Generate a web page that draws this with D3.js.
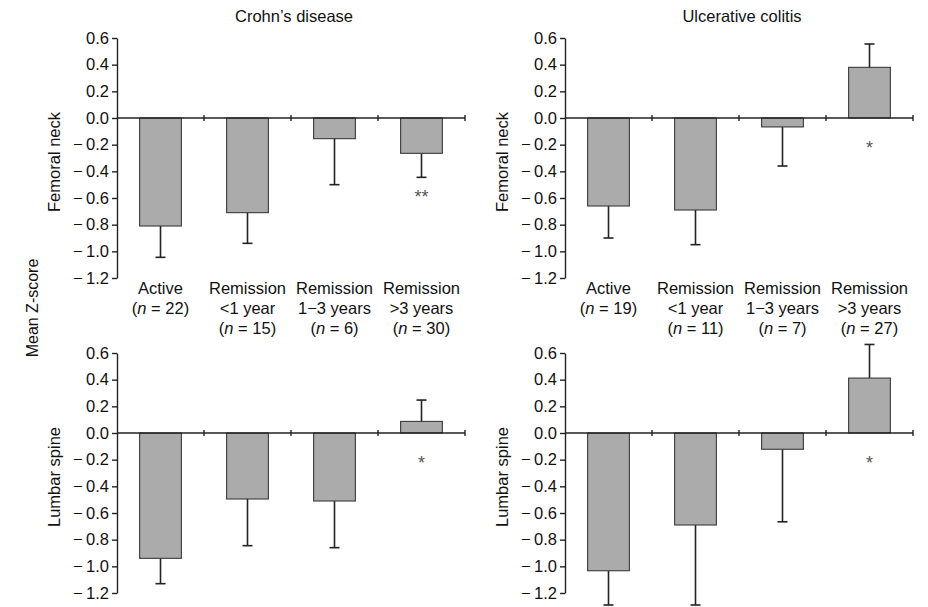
<!DOCTYPE html>
<html>
<head>
<meta charset="utf-8">
<script src="https://cdn.jsdelivr.net/npm/d3@7"></script>
<style>
  body { margin: 0; background: #fff; }
  text { font-family: "Liberation Sans", Arial, sans-serif; fill: #111; }
</style>
</head>
<body>
<div id="chart"></div>
<script>
// categories and group sizes
var categories = ["Active", "Remission <1 year", "Remission 1\u22123 years", "Remission >3 years"];
var catLines = [["Active"], ["Remission", "<1 year"], ["Remission", "1\u22123 years"], ["Remission", ">3 years"]];
var cdN = [22, 15, 6, 30];
var ucN = [19, 11, 7, 27];

// mean Z-score and error (one side, away from zero)
var cdFemoralMean = [-0.81, -0.71, -0.155, -0.265];
var cdFemoralErr = [0.235, 0.23, 0.345, 0.18];
var ucFemoralMean = [-0.66, -0.69, -0.067, 0.38];
var ucFemoralErr = [0.24, 0.26, 0.293, 0.175];
var cdLumbarMean = [-0.94, -0.495, -0.51, 0.087];
var cdLumbarErr = [0.19, 0.35, 0.35, 0.16];
var ucLumbarMean = [-1.033, -0.69, -0.122, 0.412];
var ucLumbarErr = [0.257, 0.60, 0.544, 0.252];

var cdFemoralSig = ["", "", "", "**"];
var ucFemoralSig = ["", "", "", "*"];
var cdLumbarSig = ["", "", "", "*"];
var ucLumbarSig = ["", "", "", "*"];

var yTicks = [0.6, 0.4, 0.2, 0.0, -0.2, -0.4, -0.6, -0.8, -1.0, -1.2];

var svg = d3.select("#chart")
    .append("svg")
    .attr("width", 928)
    .attr("height", 607);

var panels = [
    { x0: 117, top: 38, mean: cdFemoralMean, err: cdFemoralErr, sig: cdFemoralSig, n: cdN, ylab: "Femoral neck", title: "Crohn\u2019s disease" },
    { x0: 565, top: 38, mean: ucFemoralMean, err: ucFemoralErr, sig: ucFemoralSig, n: ucN, ylab: "Femoral neck", title: "Ulcerative colitis" },
    { x0: 117, top: 353, mean: cdLumbarMean, err: cdLumbarErr, sig: cdLumbarSig, n: null, ylab: "Lumbar spine" },
    { x0: 565, top: 353, mean: ucLumbarMean, err: ucLumbarErr, sig: ucLumbarSig, n: null, ylab: "Lumbar spine" }
];

var panelW = 348, panelH = 240;

// tick labels with a wide minus like the original
function fmt(d) {
    var s = d3.format(".1f")(Math.abs(d));
    return d < 0 ? "\u2212\u2009" + s : s;
}

panels.forEach(function (p) {
    var g = svg.append("g").attr("transform", "translate(" + p.x0 + "," + p.top + ")");

    var x = d3.scaleBand()
        .domain(categories)
        .range([0, panelW])
        .paddingInner(0.52)
        .paddingOuter(0.26);

    var y = d3.scaleLinear()
        .domain([0.6, -1.2])
        .range([0, panelH]);

    var data = categories.map(function (c, i) {
        return { cat: c, mean: p.mean[i], err: p.err[i], sig: p.sig[i], lines: catLines[i], n: p.n ? p.n[i] : null };
    });

    // y axis
    var yAxis = g.append("g")
        .call(d3.axisLeft(y).tickValues(yTicks).tickSize(5).tickSizeOuter(0).tickPadding(3)
            .tickFormat(fmt));
    yAxis.select(".domain").attr("stroke", "#222").attr("stroke-width", 1.4);
    yAxis.selectAll(".tick line").attr("stroke", "#222").attr("stroke-width", 1.4);
    yAxis.selectAll(".tick text")
        .style("font-size", "16.5px")
        .style("font-family", "'Liberation Sans', Arial, sans-serif")
        .attr("fill", "#111");

    // error bars
    var eb = g.append("g").selectAll("g.err")
        .data(data)
        .enter()
        .append("g")
        .attr("class", "err");
    eb.append("line")
        .attr("x1", function (d) { return x(d.cat) + x.bandwidth() / 2; })
        .attr("x2", function (d) { return x(d.cat) + x.bandwidth() / 2; })
        .attr("y1", function (d) { return y(d.mean); })
        .attr("y2", function (d) { return y(d.mean + (d.mean < 0 ? -d.err : d.err)); })
        .attr("stroke", "#222")
        .attr("stroke-width", 1.6);
    eb.append("line")
        .attr("x1", function (d) { return x(d.cat) + x.bandwidth() / 2 - 5; })
        .attr("x2", function (d) { return x(d.cat) + x.bandwidth() / 2 + 5; })
        .attr("y1", function (d) { return y(d.mean + (d.mean < 0 ? -d.err : d.err)); })
        .attr("y2", function (d) { return y(d.mean + (d.mean < 0 ? -d.err : d.err)); })
        .attr("stroke", "#222")
        .attr("stroke-width", 1.6);

    // bars
    g.append("g").selectAll("rect")
        .data(data)
        .enter()
        .append("rect")
        .attr("x", function (d) { return x(d.cat); })
        .attr("width", x.bandwidth())
        .attr("y", function (d) { return y(Math.max(0, d.mean)); })
        .attr("height", function (d) { return Math.abs(y(d.mean) - y(0)); })
        .attr("fill", "#ababab")
        .attr("stroke", "#3a3a3a")
        .attr("stroke-width", 1.1);

    // x axis line at zero with boundary ticks
    g.append("line")
        .attr("x1", 0).attr("x2", panelW)
        .attr("y1", y(0)).attr("y2", y(0))
        .attr("stroke", "#222")
        .attr("stroke-width", 1.4);
    g.append("g").selectAll("line.xt")
        .data(data)
        .enter()
        .append("line")
        .attr("class", "xt")
        .attr("x1", function (d) { return x(d.cat) + x.bandwidth() / 2 + x.step() / 2; })
        .attr("x2", function (d) { return x(d.cat) + x.bandwidth() / 2 + x.step() / 2; })
        .attr("y1", y(0) - 3)
        .attr("y2", y(0) + 3)
        .attr("stroke", "#222")
        .attr("stroke-width", 1.4);

    // significance markers
    g.append("g").selectAll("text.sig")
        .data(data.filter(function (d) { return d.sig; }))
        .enter()
        .append("text")
        .attr("class", "sig")
        .attr("x", function (d) { return x(d.cat) + x.bandwidth() / 2; })
        .attr("y", function (d) { return d.mean < 0 ? y(d.mean - d.err) + 26 : y(0) + 36; })
        .attr("text-anchor", "middle")
        .style("font-size", "18px")
        .style("fill", "#555")
        .text(function (d) { return d.sig; });

    // panel y label
    g.append("text")
        .attr("transform", "translate(" + (-57) + "," + (panelH / 2 + 4) + ") rotate(-90)")
        .attr("text-anchor", "middle")
        .style("font-size", "16.5px")
        .text(p.ylab);

    if (p.title) {
        g.append("text")
            .attr("x", panelW / 2 + 3)
            .attr("y", -16)
            .attr("text-anchor", "middle")
            .style("font-size", "16.5px")
            .text(p.title);
    }

    // category labels with n
    if (p.n) {
        var lab = g.append("g").selectAll("text.cat")
            .data(data)
            .enter()
            .append("text")
            .attr("class", "cat")
            .attr("text-anchor", "middle")
            .style("font-size", "16.5px");
        lab.each(function (d) {
            var t = d3.select(this);
            var cx = x(d.cat) + x.bandwidth() / 2;
            d.lines.forEach(function (l, k) {
                t.append("tspan").attr("x", cx).attr("y", panelH + 16 + k * 20).text(l);
            });
            var k = d.lines.length;
            var ts = t.append("tspan").attr("x", cx).attr("y", panelH + 16 + k * 20);
            ts.append("tspan").text("(");
            ts.append("tspan").style("font-style", "italic").text("n");
            t.append("tspan").text(" = " + d.n + ")");
        });
    }
});

// shared y label
svg.append("text")
    .attr("transform", "translate(38,308) rotate(-90)")
    .attr("text-anchor", "middle")
    .style("font-size", "16px")
    .text("Mean Z-score");
</script>
</body>
</html>
